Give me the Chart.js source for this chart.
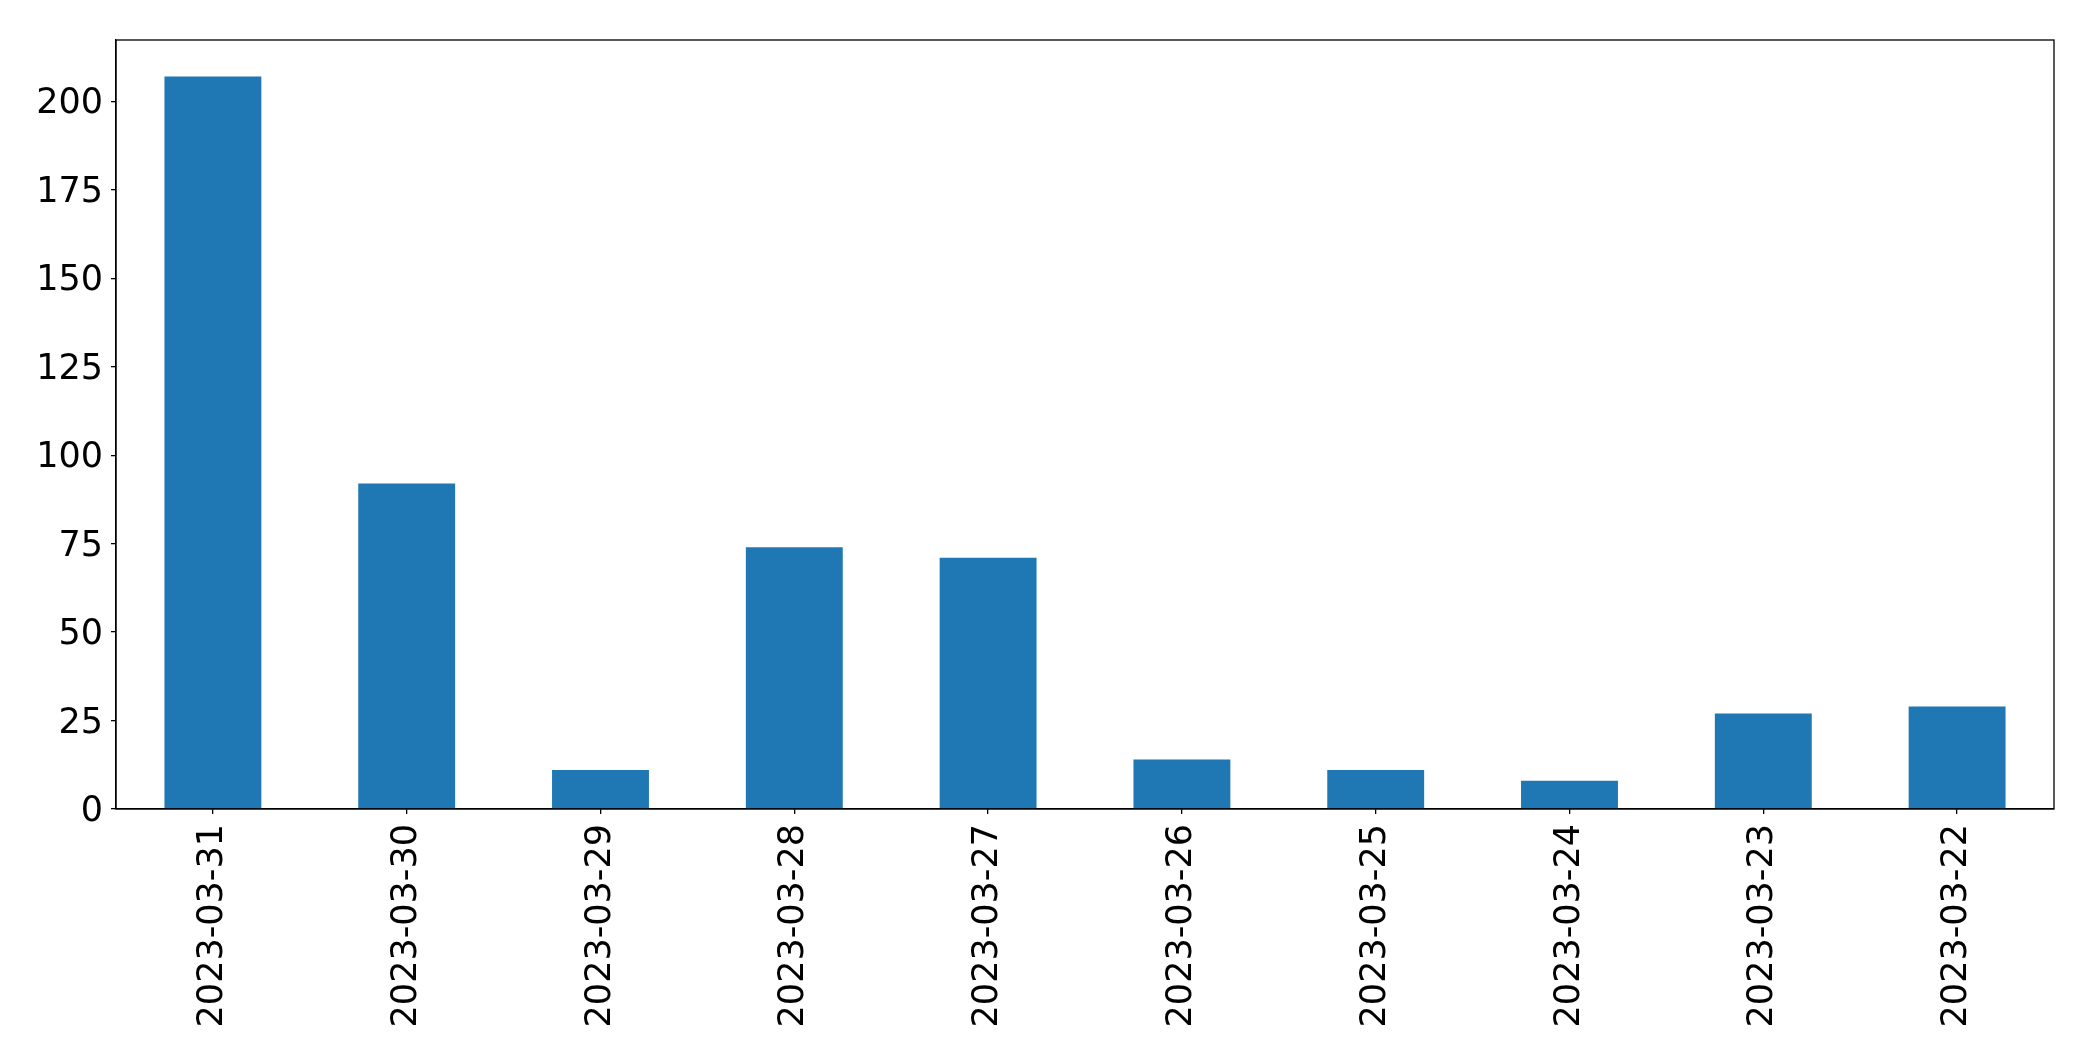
<!DOCTYPE html>
<html>
<head>
<meta charset="utf-8">
<script src="https://cdn.jsdelivr.net/npm/chart.js@4/dist/chart.umd.min.js"></script>
<style>
  body { margin: 0; background: #fff; }
  canvas { display: block; }
</style>
</head>
<body>
<canvas id="barChart" width="2093" height="1061"></canvas>
<script>
// Dates on the x axis, newest first (as in the picture)
const dates = ['2023-03-31', '2023-03-30', '2023-03-29', '2023-03-28', '2023-03-27',
               '2023-03-26', '2023-03-25', '2023-03-24', '2023-03-23', '2023-03-22'];

// Count for each date
const counts = [207, 92, 11, 74, 71, 14, 11, 8, 27, 29];

// Y axis range and step
const yMax = 217.35;
const yStep = 25;

// Draw a black frame round the plot area, like matplotlib's axes box
const framePlugin = {
    id: 'frame',
    afterDraw(chart) {
        const a = chart.chartArea;
        const ctx = chart.ctx;
        ctx.save();
        ctx.strokeStyle = '#000';
        ctx.lineWidth = 1.3;
        ctx.strokeRect(a.left, a.top, a.right - a.left, a.bottom - a.top);
        ctx.restore();
    }
};

const font = { family: 'DejaVu Sans', size: 35 };

new Chart(document.querySelector('#barChart'), {
    type: 'bar',
    data: {
        labels: dates,
        datasets: [{
            data: counts,
            backgroundColor: '#1f77b4',
            barPercentage: 0.5,
            categoryPercentage: 1.0
        }]
    },
    options: {
        responsive: false,
        animation: false,
        layout: { padding: { left: 0, right: 39, top: 40, bottom: 0 } },
        plugins: {
            legend: { display: false },
            tooltip: { enabled: false }
        },
        scales: {
            x: {
                grid: {
                    display: true,
                    drawOnChartArea: false,
                    offset: false,
                    color: '#000',
                    tickLength: 5,
                    lineWidth: 1.3
                },
                border: { display: true, color: '#000', width: 1.3 },
                ticks: {
                    color: '#000',
                    font: font,
                    minRotation: 90,
                    maxRotation: 90,
                    padding: 10,
                    autoSkip: false
                },
                afterFit(scale) { scale.height = 252; }
            },
            y: {
                min: 0,
                max: yMax,
                grid: {
                    display: true,
                    drawOnChartArea: false,
                    color: '#000',
                    tickLength: 5,
                    lineWidth: 1.3
                },
                border: { display: true, color: '#000', width: 1.3 },
                ticks: {
                    stepSize: yStep,
                    includeBounds: false,
                    color: '#000',
                    font: font,
                    padding: 8,
                    labelOffset: 3
                },
                afterFit(scale) { scale.width = 116; }
            }
        }
    },
    plugins: [framePlugin]
});
</script>
</body>
</html>
